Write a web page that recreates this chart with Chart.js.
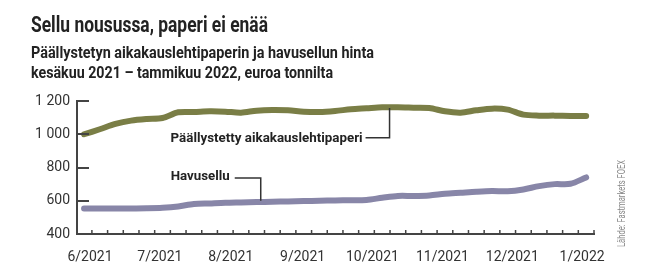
<!DOCTYPE html>
<html>
<head>
<meta charset="utf-8">
<script src="https://cdn.jsdelivr.net/npm/chart.js@4"></script>
<style>
  html, body { margin: 0; padding: 0; background: #fff; }
</style>
</head>
<body>
<canvas id="chart" width="650" height="273"></canvas>
<script>
  // viikkohinnat, euroa tonnilta (kesäkuu 2021 - tammikuu 2022)
  var paperi = [1000, 1030, 1062, 1082, 1092, 1098, 1132, 1134, 1138, 1136, 1130, 1142, 1146, 1144, 1136, 1134, 1140,
    1150, 1156, 1162, 1162, 1160, 1158, 1138, 1130, 1144, 1154, 1148, 1118, 1112, 1112, 1110, 1110];
  var havusellu = [553, 553, 554, 554, 555, 558, 566, 580, 584, 588, 590, 592, 594, 596, 598, 600, 602,
    603, 605, 618, 629, 629, 632, 642, 648, 654, 658, 657, 668, 688, 700, 702, 740];
  var kuukaudet = ['6/2021', '7/2021', '8/2021', '9/2021', '10/2021', '11/2021', '12/2021', '1/2022'];
  var kuukausiViikot = [0.38, 4.83, 9.35, 13.93, 18.38, 22.84, 27.29, 31.74];
  var yTicks = [400, 600, 800, 1000, 1200];

  var viikot = paperi.map(function (v, i) { return i; });

  var vihrea = '#7a7e46';
  var violetti = '#8886a8';
  var tumma = '#333333';

  function pisteet(arvot) {
    return viikot.map(function (w, i) { return { x: w, y: arvot[i] }; });
  }

  // piirtää tekstin annettuun leveyteen (kapea fontti)
  function fitText(c, text, x, y, width) {
    var w = c.measureText(text).width;
    c.save();
    c.translate(x, y);
    c.scale(width / w, 1);
    c.fillText(text, 0, 0);
    c.restore();
  }

  var koristeet = {
    id: 'koristeet',
    afterDraw: function (chart) {
      var c = chart.ctx;
      var xs = chart.scales.x;
      var ys = chart.scales.y;
      var area = chart.chartArea;

      // otsikot
      c.save();
      c.fillStyle = '#222';
      c.textBaseline = 'alphabetic';
      c.font = 'bold 22px Roboto';
      fitText(c, 'Sellu nousussa, paperi ei enää', 31, 32, 237);
      c.font = 'bold 16px Roboto';
      fitText(c, 'Päällystetyn aikakauslehtipaperin ja havusellun hinta', 31, 57.5, 343);
      fitText(c, 'kesäkuu 2021 – tammikuu 2022, euroa tonnilta', 31, 78, 302);
      c.restore();

      // akselien pikkuviivat
      c.save();
      c.strokeStyle = '#444';
      c.lineWidth = 2;
      yTicks.forEach(function (v) {
        if (v === ys.min) return;
        var py = Math.round(ys.getPixelForValue(v));
        c.beginPath();
        c.moveTo(area.left, py);
        c.lineTo(area.left + 12, py);
        c.stroke();
      });
      c.lineWidth = 1.5;
      viikot.forEach(function (w) {
        var px = xs.getPixelForValue(w + 0.5);
        c.beginPath();
        c.moveTo(px, area.bottom);
        c.lineTo(px, area.bottom - 4);
        c.stroke();
      });
      c.restore();

      // selitteet viivoineen
      c.save();
      c.strokeStyle = tumma;
      c.fillStyle = '#222';
      c.lineWidth = 1.5;
      c.font = 'bold 13px Roboto';
      c.textBaseline = 'middle';

      var px1 = xs.getPixelForValue(19.47);
      var py1 = ys.getPixelForValue(979);
      c.beginPath();
      c.moveTo(px1 - 24, py1);
      c.lineTo(px1, py1);
      c.lineTo(px1, ys.getPixelForValue(1158));
      c.stroke();
      fitText(c, 'Päällystetty aikakauslehtipaperi', px1 - 219, py1 + 1, 192);

      var px2 = xs.getPixelForValue(11.26);
      var py2 = ys.getPixelForValue(737);
      c.beginPath();
      c.moveTo(px2 - 26, py2);
      c.lineTo(px2, py2);
      c.lineTo(px2, ys.getPixelForValue(600));
      c.stroke();
      fitText(c, 'Havusellu', px2 - 90, py2 - 1, 59);
      c.restore();

      // lähde
      c.save();
      c.fillStyle = '#888';
      c.font = '10px Roboto';
      c.textBaseline = 'middle';
      c.translate(622, 247);
      c.rotate(-Math.PI / 2);
      fitText(c, 'Lähde: Fastmarkets FOEX', 0, 0, 87);
      c.restore();
    }
  };

  var ctx = document.getElementById('chart');

  var chart = new Chart(ctx, {
    type: 'line',
    data: {
      datasets: [{
        label: 'Päällystetty aikakauslehtipaperi',
        data: pisteet(paperi),
        borderColor: vihrea,
        borderWidth: 6,
        borderCapStyle: 'round',
        borderJoinStyle: 'round',
        pointRadius: 0,
        tension: 0.3
      }, {
        label: 'Havusellu',
        data: pisteet(havusellu),
        borderColor: violetti,
        borderWidth: 6,
        borderCapStyle: 'round',
        borderJoinStyle: 'round',
        pointRadius: 0,
        tension: 0.3
      }]
    },
    options: {
      responsive: false,
      animation: false,
      devicePixelRatio: 1,
      layout: { padding: { left: 31, right: 56, top: 101, bottom: 0 } },
      plugins: {
        legend: { display: false },
        tooltip: { enabled: false }
      },
      scales: {
        x: {
          type: 'linear',
          min: -0.45,
          max: 32.5,
          afterBuildTicks: function (s) {
            s.ticks = kuukausiViikot.map(function (v) { return { value: v }; });
          },
          afterFit: function (s) {
            s.height = 39;
            s.paddingLeft = 0;
            s.paddingRight = 0;
          },
          ticks: {
            autoSkip: false,
            maxRotation: 0,
            padding: 15,
            color: tumma,
            font: { family: 'Roboto', size: 14 },
            callback: function (v, i) { return kuukaudet[i]; }
          },
          grid: { display: false, drawTicks: false },
          border: { display: true, color: '#444', width: 2 }
        },
        y: {
          min: 400,
          max: 1200,
          afterBuildTicks: function (s) {
            s.ticks = yTicks.map(function (v) { return { value: v }; });
          },
          afterFit: function (s) {
            s.width = 46;
            s.paddingTop = 0;
            s.paddingBottom = 0;
          },
          ticks: {
            padding: 7,
            color: tumma,
            font: { family: 'Roboto', size: 14 },
            callback: function (v) {
              return v >= 1000 ? String(v).replace(/(\d)(\d{3})$/, '$1 $2') : String(v);
            }
          },
          grid: { display: false, drawTicks: false },
          border: { display: true, color: '#444', width: 2 }
        }
      }
    },
    plugins: [koristeet]
  });
</script>
</body>
</html>
